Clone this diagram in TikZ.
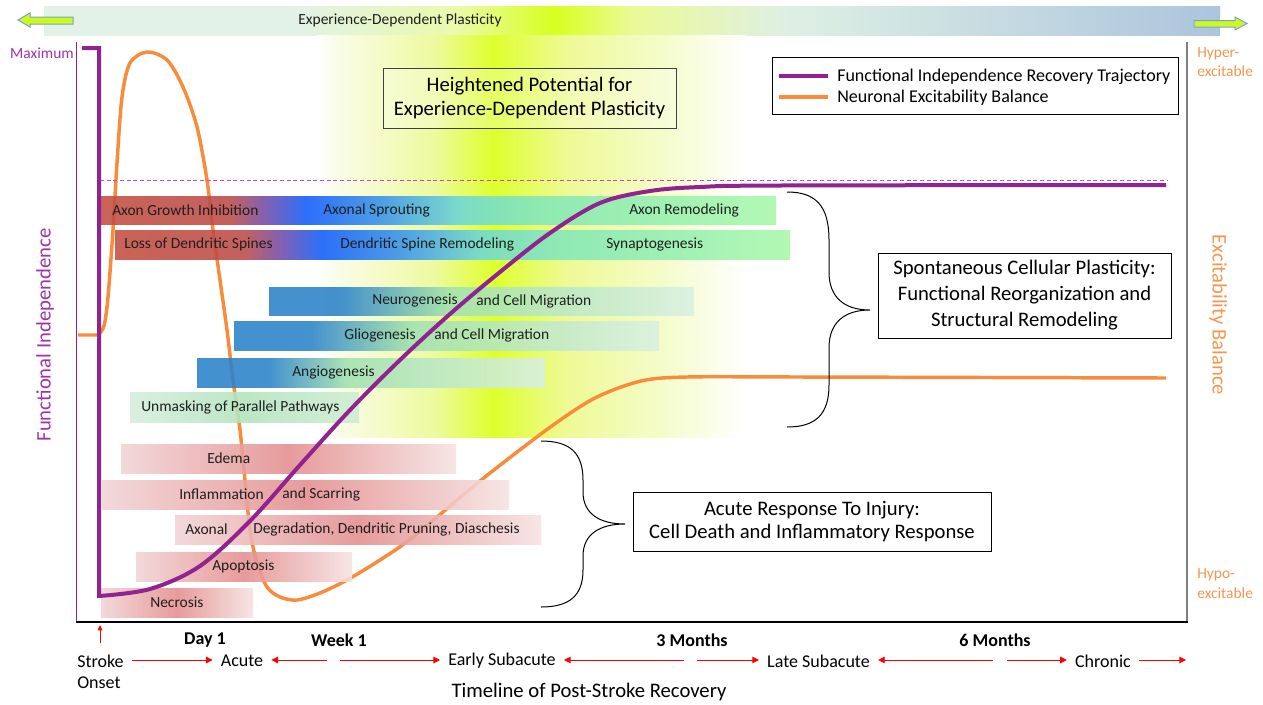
\documentclass[tikz,border=0pt]{standalone}
\usepackage{fontspec}
\setmainfont{Carlito}
\usetikzlibrary{arrows.meta}

\definecolor{fipurple}{RGB}{145,35,145}
\definecolor{exorange}{RGB}{248,140,58}
\definecolor{lblpurple}{RGB}{160,50,170}
\definecolor{lblorange}{RGB}{245,150,80}
\definecolor{dashpurple}{RGB}{180,80,180}
\definecolor{arrowfill}{RGB}{204,250,30}
\definecolor{arrowedge}{RGB}{120,160,210}
% top bar
\definecolor{tba}{RGB}{226,242,230}
\definecolor{tbb}{RGB}{235,250,170}
\definecolor{tbc}{RGB}{215,255,30}
\definecolor{tbd}{RGB}{235,250,150}
\definecolor{tbe}{RGB}{222,240,228}
\definecolor{tbf}{RGB}{172,196,222}
% yellow region
\definecolor{yla}{RGB}{255,255,255}
\definecolor{ylb}{RGB}{250,252,235}
\definecolor{ylc}{RGB}{238,250,160}
\definecolor{yld}{RGB}{222,255,45}
\definecolor{yle}{RGB}{238,250,150}
\definecolor{ylf}{RGB}{245,252,205}
% axon / dendrite bars
\definecolor{axa}{RGB}{195,78,65}
\definecolor{axb}{RGB}{188,76,72}
\definecolor{axc}{RGB}{115,75,165}
\definecolor{axd}{RGB}{15,92,250}
\definecolor{axe}{RGB}{55,145,235}
\definecolor{axf}{RGB}{110,215,215}
\definecolor{axg}{RGB}{130,232,185}
\definecolor{axh}{RGB}{168,248,168}
% blue bars
\definecolor{bla}{RGB}{42,130,200}
\definecolor{blb}{RGB}{160,225,175}
\definecolor{blc}{RGB}{218,240,226}
% unmasking
\definecolor{uma}{RGB}{214,238,220}
\definecolor{umb}{RGB}{178,228,190}
\definecolor{umc}{RGB}{206,236,212}
% pink bars
\definecolor{pkl}{RGB}{242,212,214}
\definecolor{pkd}{RGB}{228,142,142}
\definecolor{pkr}{RGB}{246,226,226}

\pgfdeclarehorizontalshading{topbarshade}{100bp}{color(0bp)=(tba); color(25bp)=(tba); color(35.9bp)=(tba); color(42.5bp)=(tbb); color(46.7bp)=(tbc); color(50bp)=(tbd); color(56.5bp)=(tbe); color(75bp)=(tbf); color(100bp)=(tbf)}
\pgfdeclarehorizontalshading{yellowshade}{100bp}{color(0bp)=(yla); color(25bp)=(yla); color(26.8bp)=(ylb); color(38.5bp)=(ylc); color(45.5bp)=(yld); color(54.2bp)=(yle); color(65.9bp)=(ylf); color(75bp)=(yla); color(100bp)=(yla)}
\pgfdeclarehorizontalshading{axonshade}{100bp}{color(0bp)=(axa); color(25bp)=(axa); color(34.6bp)=(axb); color(37.1bp)=(axc); color(40.2bp)=(axd); color(45.7bp)=(axe); color(51.6bp)=(axf); color(57.5bp)=(axg); color(75bp)=(axh); color(100bp)=(axh)}
\pgfdeclarehorizontalshading{dendshade}{100bp}{color(0bp)=(axa); color(25bp)=(axa); color(34.6bp)=(axb); color(37.2bp)=(axc); color(40.3bp)=(axd); color(46.1bp)=(axe); color(52bp)=(axf); color(58bp)=(axg); color(75bp)=(axh); color(100bp)=(axh)}
\pgfdeclarehorizontalshading{neuroshade}{100bp}{color(0bp)=(bla); color(25bp)=(bla); color(33.4bp)=(bla); color(46.1bp)=(blb); color(75bp)=(blc); color(100bp)=(blc)}
\pgfdeclarehorizontalshading{glioshade}{100bp}{color(0bp)=(bla); color(25bp)=(bla); color(33.9bp)=(bla); color(45.8bp)=(blb); color(75bp)=(blc); color(100bp)=(blc)}
\pgfdeclarehorizontalshading{angioshade}{100bp}{color(0bp)=(bla); color(25bp)=(bla); color(35.3bp)=(bla); color(46.5bp)=(blb); color(75bp)=(blc); color(100bp)=(blc)}

\tikzset{
  smalltxt/.style={font=\fontsize{11.6pt}{14pt}\selectfont, inner sep=0pt, text=black!88},
  bartxt/.style={smalltxt, anchor=west},
  bigtxt/.style={font=\fontsize{15.5pt}{18.5pt}\selectfont},
  midtxt/.style={font=\fontsize{13.5pt}{16pt}\selectfont, inner sep=0pt},
  boldtxt/.style={font=\fontsize{13.5pt}{16pt}\selectfont\bfseries, inner sep=0pt},
  infobox/.style={draw=black, line width=0.75pt, fill=white, align=center, inner sep=2pt},
  ficurve/.style={draw=fipurple, line width=3pt, line join=miter},
  excurve/.style={draw=exorange, line width=2.6pt, line join=round},
  redarr/.style={draw=red, line width=0.7pt, -{Triangle[length=5pt,width=5pt]}, shorten >=6pt},
  bracepath/.style={draw=black, line width=0.75pt},
  blockarrow/.style={fill=arrowfill, draw=arrowedge, line width=0.75pt},
  barfill/.style={fill opacity=0.88},
  pinkbar/.style={barfill, left color=pkl, right color=pkr, middle color=pkd},
}

\begin{document}
\begin{tikzpicture}[x=0.75pt,y=-0.75pt]
\useasboundingbox (0,0) rectangle (1263,704);
\fill[white] (0,0) rectangle (1263,704);

% top bar
\shade[shading=topbarshade] (44,6) rectangle (1220,35);
\node[smalltxt] (toptitle) at (400,20) {Experience-Dependent Plasticity};
\draw[blockarrow] (18,20) -- (30,13) -- (30,17) -- (73,17) -- (73,24) -- (30,24) -- (30,27) -- cycle;
\draw[blockarrow] (1247,23.5) -- (1235,17) -- (1235,20.5) -- (1194,20.5) -- (1194,27) -- (1235,27) -- (1235,30) -- cycle;

% yellow highlight region
\shade[shading=yellowshade] (318,35) rectangle (745,437);

% excitability curve (under the bars)
\draw[excurve] (78,335) -- (98,335) -- plot[smooth, tension=0.5] coordinates {(98,335) (104,326) (108,297) (113,230) (117,163) (122,97) (130,63) (147,52) (167,60) (183,87) (197,127) (207,180) (213,230) (220,280) (227,330) (233,380) (240,430) (245,480) (250,530) (257,563) (267,587) (280,597) (297,600) (320,593) (347,580) (380,560) (413,537) (480,481) (549,428) (595,398) (641,381) (687,377) (800,377) (1166,378)};

% spontaneous plasticity bars
\shade[barfill, shading=axonshade] (101,196) rectangle (776,224);
\node[bartxt] (axinh) at (112,210) {Axon Growth Inhibition};
\node[bartxt] (axspr) at (323,210) {Axonal Sprouting};
\node[bartxt] (axrem) at (629,210) {Axon Remodeling};

\shade[barfill, shading=dendshade] (115,230) rectangle (790,259);
\node[bartxt] (dnloss) at (124,244.5) {Loss of Dendritic Spines};
\node[bartxt] (dnrem) at (340,244.5) {Dendritic Spine Remodeling};
\node[bartxt] (dnsyn) at (606,244.5) {Synaptogenesis};

\shade[barfill, shading=neuroshade] (269,287) rectangle (694,315);
\node[bartxt] (neuroa) at (372,301) {Neurogenesis};
\node[bartxt] (neurob) at (476,301) {and Cell Migration};

\shade[barfill, shading=glioshade] (234,321) rectangle (659,350);
\node[bartxt] (glioa) at (344,335.5) {Gliogenesis};
\node[bartxt] (gliob) at (434,335.5) {and Cell Migration};

\shade[barfill, shading=angioshade] (197,358) rectangle (545,387);
\node[bartxt] (angio) at (292,372.5) {Angiogenesis};

\shade[barfill, left color=uma, right color=umc, middle color=umb] (130,392) rectangle (359,422);
\node[bartxt] (unmask) at (141,407) {Unmasking of Parallel Pathways};

% acute response bars
\shade[pinkbar] (121,444) rectangle (456,473);
\node[bartxt] (edema) at (207,458.5) {Edema};
\shade[pinkbar] (102,480) rectangle (509,509);
\node[bartxt] (inflA) at (179,494.5) {Inflammation};
\node[bartxt] (inflB) at (282,494.5) {and Scarring};
\shade[pinkbar] (175,515) rectangle (541,544);
\node[bartxt] (axdegA) at (185,529.5) {Axonal};
\node[bartxt] (axdegB) at (253,529.5) {Degradation, Dendritic Pruning, Diaschesis};
\shade[pinkbar] (136,552) rectangle (352,581);
\node[bartxt] (apopt) at (212,566.5) {Apoptosis};
\shade[pinkbar] (101,588) rectangle (253,617);
\node[bartxt] (necro) at (150,602.5) {Necrosis};

% dashed maximum-recovery line
\draw[dashpurple, line width=0.75pt, dash pattern=on 3pt off 2pt] (100,180) -- (1168,180);

% axes
\draw[fipurple, line width=1.2pt] (76.5,42) -- (76.5,622);
\draw[gray, line width=1.2pt] (1187,42) -- (1187,622);
\draw[black, line width=1.5pt] (75.5,622) -- (1188,622);

% functional independence curve
\draw[ficurve] (82,48) -- (99,48) -- (99,596) -- plot[smooth, tension=0.55] coordinates {(99,596) (150,589) (200,566) (250,521) (300,465) (350,410) (400,360) (450,314) (500,272) (550,233) (600,203) (650,191) (700,187) (780,185.5) (1166,185)};

% braces
\coordinate (brAtop) at (787,192);
\coordinate (brAtip) at (870,310);
\coordinate (brAbot) at (787,427);
\draw[bracepath] (brAtop) .. controls (815,192) and (829,205) .. (829,240) -- (829,272) .. controls (829,298) and (845,310) .. (brAtip) .. controls (845,310) and (829,322) .. (829,348) -- (829,385) .. controls (829,415) and (815,427) .. (brAbot);
\coordinate (brBtop) at (541,441);
\coordinate (brBtip) at (625,524);
\coordinate (brBbot) at (541,607);
\draw[bracepath] (brBtop) .. controls (569,441) and (583,452) .. (583,480) -- (583,492) .. controls (583,514) and (600,524) .. (brBtip) .. controls (600,524) and (583,534) .. (583,556) -- (583,570) .. controls (583,596) and (569,607) .. (brBbot);

% boxes
\node[infobox, bigtxt, draw=black!75, fill=white, fill opacity=0.25, text opacity=1, minimum width=219.75pt, minimum height=45pt] (heightened) at (529.5,98) {Heightened Potential for\\Experience-Dependent Plasticity};
\node[infobox, font=\fontsize{15.5pt}{19.5pt}\selectfont, minimum width=219.75pt, minimum height=63.75pt] (spont) at (1024.5,295.5) {Spontaneous Cellular Plasticity:\\Functional Reorganization and\\Structural Remodeling};
\node[infobox, font=\fontsize{15.5pt}{17.5pt}\selectfont, minimum width=268.5pt, minimum height=44.25pt] (acutebox) at (812,521.5) {Acute Response To Injury:\\Cell Death and Inflammatory Response};

% legend
\node[draw=black, line width=0.75pt, fill=white, minimum width=304.5pt, minimum height=42.75pt, inner sep=0pt] (legendbox) at (975,85.5) {};
\coordinate (lgAa) at (779,76);
\coordinate (lgAb) at (828,76);
\coordinate (lgBa) at (779,97);
\coordinate (lgBb) at (828,97);
\draw[fipurple, line width=2.4pt] (lgAa) -- (lgAb);
\draw[exorange, line width=2.4pt] (lgBa) -- (lgBb);
\node[midtxt, anchor=west] (lgAtxt) at (837,77) {Functional Independence Recovery Trajectory};
\node[midtxt, anchor=west] (lgBtxt) at (837,98) {Neuronal Excitability Balance};

% axis labels
\node[smalltxt, text=lblpurple, anchor=east] (maxlbl) at (74,53) {Maximum};
\node[bigtxt, text=lblpurple, rotate=90] (fiaxis) at (45,335) {Functional Independence};
\node[bigtxt, text=lblorange, rotate=-90] (exaxis) at (1218,315) {Excitability Balance};
\node[smalltxt, text=lblorange, anchor=west, align=left, font=\fontsize{11.6pt}{14.5pt}\selectfont] (hyper) at (1197,62) {Hyper-\\excitable};
\node[smalltxt, text=lblorange, anchor=west, align=left, font=\fontsize{11.6pt}{14.5pt}\selectfont] (hypo) at (1197,583.5) {Hypo-\\excitable};

% timeline
\node[boldtxt] (day1) at (205,640) {Day 1};
\node[boldtxt] (week1) at (339,640) {Week 1};
\node[boldtxt] (month3) at (692,640) {3 Months};
\node[boldtxt] (month6) at (995,640) {6 Months};
\node[midtxt, anchor=west] (stroke) at (77,661) {Stroke};
\node[midtxt, anchor=west] (onset) at (77,683) {Onset};
\node[midtxt] (acute) at (242,661) {Acute};
\node[midtxt] (earlysub) at (502,661) {Early Subacute};
\node[midtxt] (latesub) at (818.5,661) {Late Subacute};
\node[midtxt] (chronic) at (1103,661) {Chronic};
\coordinate (gapA1) at (327,660);
\coordinate (gapA2) at (340,660);
\coordinate (gapB1) at (684,660);
\coordinate (gapB2) at (697,660);
\coordinate (gapC1) at (993,660);
\coordinate (gapC2) at (1007,660);
\coordinate (endarr) at (1186,660);
\coordinate (onsetbase) at (100,643);
\coordinate (onsettip) at (100,625);
\draw[redarr, shorten <=6pt] (stroke.east |- gapA1) -- (acute.west |- gapA1);
\draw[redarr] (gapA1) -- (acute.east |- gapA1);
\draw[redarr] (gapA2) -- (earlysub.west |- gapA2);
\draw[redarr] (gapB1) -- (earlysub.east |- gapB1);
\draw[redarr] (gapB2) -- (latesub.west |- gapB2);
\draw[redarr] (gapC1) -- (latesub.east |- gapC1);
\draw[redarr] (gapC2) -- (chronic.west |- gapC2);
\draw[redarr, shorten <=6pt, shorten >=0pt] (chronic.east |- endarr) -- (endarr);
\draw[redarr, shorten >=0pt, -{Triangle[length=4pt,width=3.5pt]}] (onsetbase) -- (onsettip);
\node[bigtxt] (timeline) at (589,692) {Timeline of Post-Stroke Recovery};
\end{tikzpicture}
\end{document}
